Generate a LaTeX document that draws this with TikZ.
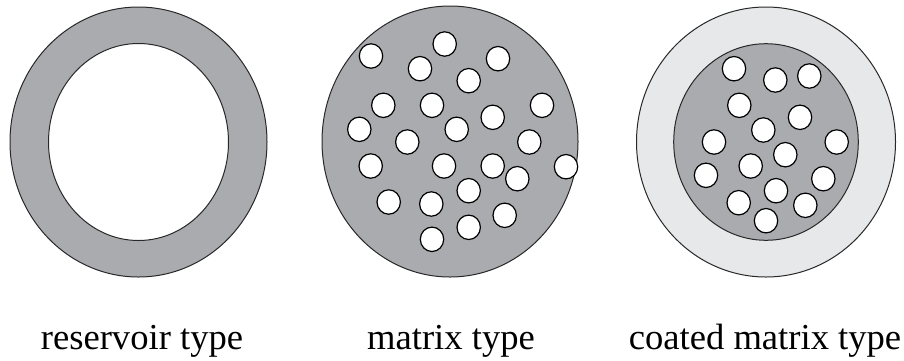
\documentclass[tikz,border=0pt]{standalone}
\usepackage{fontspec}
\setmainfont{Liberation Serif}
\definecolor{matrixgray}{RGB}{169,171,174}
\definecolor{coatgray}{RGB}{231,232,233}
\definecolor{rimline}{RGB}{40,40,40}

\begin{document}
\begin{tikzpicture}[
            x=1pt,
            y=-1pt,
            shell/.style={draw=rimline, line width=1pt},
            hole/.style={draw=black, line width=1.2pt, fill=white},
            caption/.style={font=\fontsize{36.6}{42}\selectfont, anchor=base, inner sep=0pt}
        ]
        \useasboundingbox (0,0) rectangle (904,360);
        \coordinate (R) at (138.5,142);
        \coordinate (M) at (450,141.5);
        \coordinate (C) at (766,142);

        % reservoir
        \draw[shell, fill=matrixgray] (R) ellipse [x radius=128.5pt, y radius=135pt];
        \draw[shell, fill=white] (R) ellipse [x radius=90pt, y radius=98.5pt];

        % matrix
        \draw[shell, fill=matrixgray] (M) ellipse [x radius=128pt, y radius=135.5pt];
        \foreach \px/\py in {371/56, 444.7/44, 420/68.7, 498/58.7, 468.7/80.7,
                383.3/105.3, 432/105.3, 542/105.3, 492.7/117.3, 359.3/129.3,
                456.7/129.3, 407.3/142, 529.3/142, 370.7/166, 444/166,
                492.7/166, 566/166.7, 517.3/178.7, 468.7/190.7, 388.7/202,
                431.3/204, 504.7/215.3, 468.7/227.3, 432/239.3}
            \draw[hole] (\px,\py) ellipse [x radius=11.7pt, y radius=12.2pt];

        % coated matrix
        \draw[shell, fill=coatgray] (C) ellipse [x radius=129.5pt, y radius=135pt];
        \draw[shell, fill=matrixgray] (C) ellipse [x radius=92.3pt, y radius=98.3pt];
        \foreach \px/\py in {734/68.7, 775.3/80, 809.3/76, 739.3/105.3, 800/117.3,
                763.3/130, 714/142, 836.7/142, 785.3/154.7, 750.7/166,
                706/175.3, 823.3/178.7, 776/190.7, 738.7/202.7, 805.3/205.3,
                766/220.7}
            \draw[hole] (\px,\py) ellipse [x radius=11.7pt, y radius=12.2pt];

        \node[caption] (reservoir) at (142,349) {reservoir type};
        \node[caption] (matrix) at (451,349) {matrix type};
        \node[caption] (coated) at (765,349) {coated matrix type};

    \end{tikzpicture}
\end{document}
